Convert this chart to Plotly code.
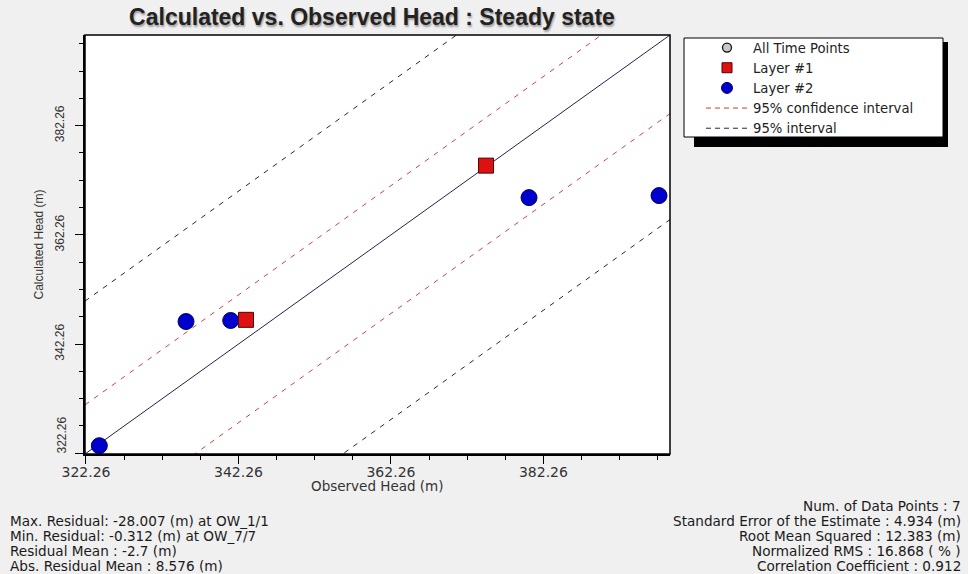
import plotly.graph_objects as go

# ---------------- data ----------------
observed_layer1 = [343.25, 374.73]
calculated_layer1 = [346.70, 374.94]
observed_layer2 = [324.01, 335.38, 341.24, 380.37, 397.42]
calculated_layer2 = [323.65, 346.39, 346.58, 369.08, 369.45]

axis_range = [322.13, 398.86]
x_tick_labels = ["322.26", "342.26", "362.26", "382.26"]
y_tick_labels = ["322.26", "342.26", "362.26", "382.26"]
conf_offsets = [9.0, -14.4]        # 95% confidence interval (around 1:1 line)
interval_offsets = [28.0, -33.8]   # 95% interval

title_text = "Calculated vs. Observed Head : Steady state"
x_title = "Observed Head (m)"
y_title = "Calculated Head (m)"
stats_left = [
    "Max. Residual: -28.007 (m) at OW_1/1",
    "Min. Residual: -0.312 (m) at OW_7/7",
    "Residual Mean : -2.7 (m)",
    "Abs. Residual Mean : 8.576 (m)",
]
stats_right = [
    "Num. of Data Points : 7",
    "Standard Error of the Estimate : 4.934 (m)",
    "Root Mean Squared : 12.383 (m)",
    "Normalized RMS : 16.868 ( % )",
    "Correlation Coefficient : 0.912",
]

# ---------------- layout helpers ----------------
W, H = 968, 574
L, R, T, B = 85, 298, 35, 120
PW, PH = W - L - R, H - T - B


def px_x(px):
    return (px - L) / PW


def px_y(py):
    return (H - B - py) / PH


BODY = "DejaVu Sans"
ARIAL = "Liberation Sans, Arial, sans-serif"


def band(offsets):
    xs, ys = [], []
    for off in offsets:
        xs += [axis_range[0], axis_range[1], None]
        ys += [axis_range[0] + off, axis_range[1] + off, None]
    return xs, ys


fig = go.Figure()

# 1:1 line
fig.add_trace(go.Scatter(x=axis_range, y=axis_range, mode="lines",
                         line=dict(color="#23234d", width=1), showlegend=False,
                         hoverinfo="skip"))
cx, cy = band(conf_offsets)
fig.add_trace(go.Scatter(x=cx, y=cy, mode="lines", showlegend=False,
                         line=dict(color="#cc4444", width=1, dash="5px,6px")))
ix, iy = band(interval_offsets)
fig.add_trace(go.Scatter(x=ix, y=iy, mode="lines", showlegend=False,
                         line=dict(color="#22225a", width=1, dash="5px,6px")))

# data points
fig.add_trace(go.Scatter(x=observed_layer2, y=calculated_layer2, mode="markers",
                         showlegend=False,
                         marker=dict(symbol="circle", size=16, color="#0000cc",
                                     line=dict(color="#000066", width=1))))
fig.add_trace(go.Scatter(x=observed_layer1, y=calculated_layer1, mode="markers",
                         showlegend=False,
                         marker=dict(symbol="square", size=15, color="#dd1111",
                                     line=dict(color="#550000", width=1))))

# legend entries
fig.add_trace(go.Scatter(x=[None], y=[None], mode="markers", name="All Time Points",
                         marker=dict(symbol="circle", size=9, color="#c8c8c8",
                                     line=dict(color="#111111", width=1.3))))
fig.add_trace(go.Scatter(x=[None], y=[None], mode="markers", name="Layer #1",
                         marker=dict(symbol="square", size=10, color="#dd1111",
                                     line=dict(color="#550000", width=1))))
fig.add_trace(go.Scatter(x=[None], y=[None], mode="markers", name="Layer #2",
                         marker=dict(symbol="circle", size=11, color="#0000cc",
                                     line=dict(color="#000066", width=1))))
fig.add_trace(go.Scatter(x=[None], y=[None], mode="lines", name="95% confidence interval",
                         line=dict(color="#dd3333", width=1, dash="5px,4px")))
fig.add_trace(go.Scatter(x=[None], y=[None], mode="lines", name="95% interval",
                         line=dict(color="#22225a", width=1, dash="5px,4px")))

fig.update_xaxes(
    range=axis_range, tickmode="array",
    tickvals=[float(t) for t in x_tick_labels], ticktext=x_tick_labels,
    ticks="outside", ticklen=8, tickwidth=1, tickcolor="black",
    ticklabelstandoff=-4,
    minor=dict(tickmode="linear", tick0=322.26, dtick=5, ticks="outside",
               ticklen=4, tickwidth=1, tickcolor="black", showgrid=False),
    showline=True, linewidth=2, linecolor="black", showgrid=False, zeroline=False,
    tickfont=dict(family=BODY, size=14, color="#333333"),
)
fig.update_yaxes(
    range=axis_range, tickmode="array",
    tickvals=[float(t) for t in y_tick_labels],
    ticktext=[""] + y_tick_labels[1:],
    tickangle=-90, ticklabelstandoff=6,
    ticks="outside", ticklen=8, tickwidth=1, tickcolor="black",
    minor=dict(tickmode="linear", tick0=322.26, dtick=5, ticks="outside",
               ticklen=4, tickwidth=1, tickcolor="black", showgrid=False),
    showline=True, linewidth=2, linecolor="black", showgrid=False, zeroline=False,
    tickfont=dict(family=ARIAL, size=12, color="#333333"),
)

annotations = [
    # bottom y tick label, pushed up inside the axis as in the original
    dict(text=y_tick_labels[0], x=px_x(61.5), y=px_y(435), xref="paper", yref="paper",
         textangle=-90, showarrow=False, xanchor="center", yanchor="middle",
         font=dict(family=ARIAL, size=12, color="#333333")),
    dict(text=y_title, x=px_x(38), y=px_y(244.5), xref="paper", yref="paper",
         textangle=-90, showarrow=False, xanchor="center", yanchor="middle",
         font=dict(family=ARIAL, size=12, color="#333333")),
    dict(text=x_title, x=px_x(377.5), y=px_y(486), xref="paper", yref="paper",
         showarrow=False, xanchor="center", yanchor="middle",
         font=dict(family=BODY, size=13.5, color="#333333")),
]
left_y = [521, 536, 551, 565.5]
for txt, yy in zip(stats_left, left_y):
    annotations.append(dict(text=txt, x=px_x(8), y=px_y(yy), xref="paper", yref="paper",
                            showarrow=False, xanchor="left", yanchor="middle",
                            font=dict(family=BODY, size=13.6, color="#1a1a1a")))
right_y = [506, 521, 536, 551, 565.5]
for txt, yy in zip(stats_right, right_y):
    annotations.append(dict(text=txt, x=px_x(963), y=px_y(yy), xref="paper", yref="paper",
                            showarrow=False, xanchor="right", yanchor="middle",
                            font=dict(family=BODY, size=13.6, color="#1a1a1a")))

shapes = [
    dict(type="rect", xref="paper", yref="paper", x0=0, x1=1, y0=0, y1=1,
         line=dict(color="black", width=1.5), layer="above"),
    # legend drop shadow and legend box
    dict(type="rect", xref="paper", yref="paper", x0=px_x(694), x1=px_x(948),
         y0=px_y(147), y1=px_y(42), fillcolor="black", line=dict(width=0), layer="above"),
    dict(type="rect", xref="paper", yref="paper", x0=px_x(684), x1=px_x(943),
         y0=px_y(137), y1=px_y(38), fillcolor="white",
         line=dict(color="black", width=1), layer="above"),
]

fig.update_layout(
    width=W, height=H,
    margin=dict(l=L, r=R, t=T, b=B, pad=0),
    paper_bgcolor="#f0f0f0", plot_bgcolor="white",
    title=dict(text=title_text, xref="container", yref="container",
               x=372 / W, y=1 - 17 / H, xanchor="center", yanchor="middle",
               font=dict(family=ARIAL, size=23, color="#222222", weight="bold",
                         shadow="1px 2px 2px rgba(0,0,0,0.35)")),
    legend=dict(x=px_x(701), y=px_y(32.5), xanchor="left", yanchor="top",
                bgcolor="rgba(0,0,0,0)", borderwidth=0,
                itemwidth=42, tracegroupgap=0,
                font=dict(family=BODY, size=13.2, color="#222222")),
    annotations=annotations, shapes=shapes,
    showlegend=True,
)

fig.write_html("out.html", config={"displayModeBar": False},
               post_script="document.body.style.margin='0px';")
